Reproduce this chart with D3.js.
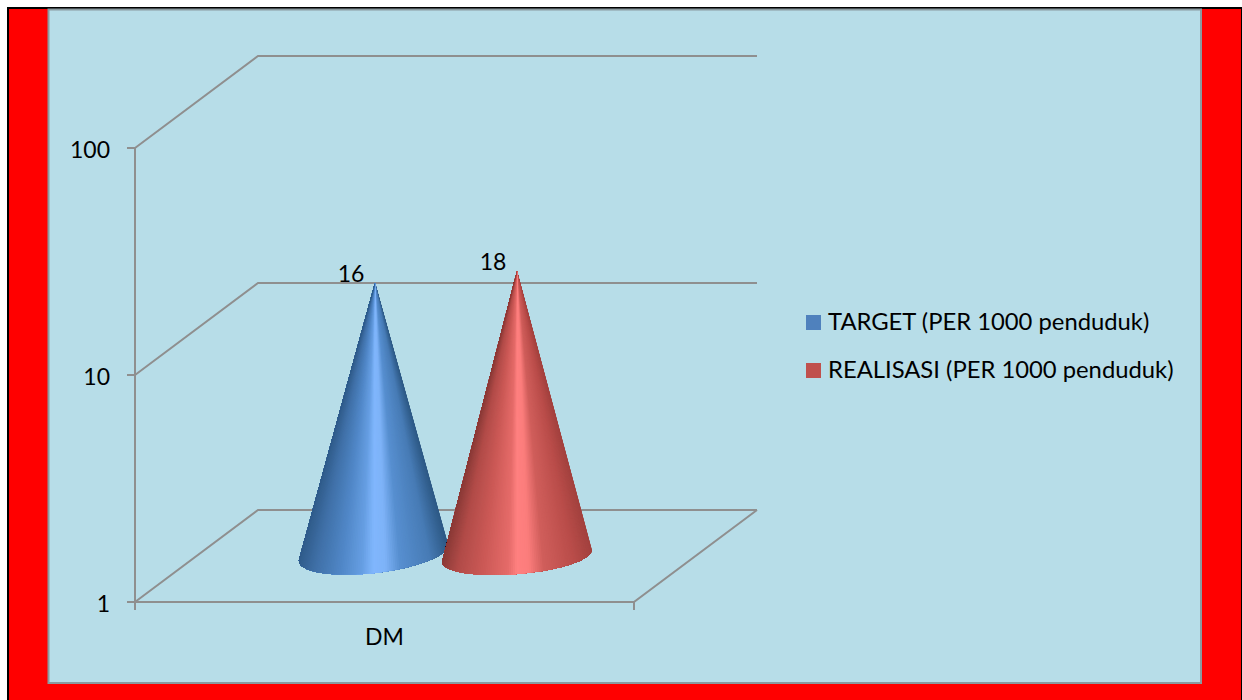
<!DOCTYPE html>
<html>
<head>
<meta charset="utf-8">
<script src="https://cdnjs.cloudflare.com/ajax/libs/d3/7.8.5/d3.min.js"></script>
<style>
html,body{margin:0;padding:0;background:#fff;overflow:hidden}
svg{display:block}
text{font-family:Lato,"Open Sans",sans-serif;fill:#000}
</style>
</head>
<body>
<script>
// Chart values
const categories = ["DM"];
const seriesNames = ["TARGET (PER 1000 penduduk)", "REALISASI (PER 1000 penduduk)"];
const seriesValues = [[16], [18]];
const yTicks = [1, 10, 100];

// Colours: legend swatch plus the shading stops across each cone's visible face
const swatches = ["#4f81bd", "#c0504d"];
const coneStops = [
  [[0,"#315d8c"],[.1,"#3f6fa6"],[.28,"#5087c7"],[.42,"#659ee2"],[.5,"#80b6fd"],[.58,"#7eb3f8"],[.68,"#578fd0"],[.88,"#477bb5"],[1,"#2e5a86"]],
  [[0,"#8c3b38"],[.1,"#b14b48"],[.28,"#cd5a57"],[.44,"#e56b69"],[.5,"#ff8080"],[.58,"#fb7d7c"],[.68,"#d05e5b"],[.88,"#ba4d4a"],[1,"#a3423f"]]
];
// Base ellipse of each cone as the perspective leaves it
const baseTilt = [-6.5, -4.8];
const baseRy = [20, 18];
const baseShift = [[-1.5, -3], [0, 0]];

const W = 1242, H = 700;
const panel = {x: 48.5, y: 9.5, w: 1152.5, h: 673.5};
const plot = {left: 135, right: 634, bottom: 602, top: 148, dx: 123, dy: -92};
const coneDepth = 0.5;   // cones stand half way back on the floor
const rx = 75;
const fontSize = 23;
const legendFontSize = 23.8;

const svg = d3.select("body").append("svg").attr("width", W).attr("height", H);

// Frame
svg.append("rect").attr("width", W).attr("height", H).attr("fill", "#fff");
svg.append("rect").attr("x", 7).attr("y", 7).attr("width", W - 7).attr("height", H - 7).attr("fill", "#000");
svg.append("rect").attr("x", 9).attr("y", 9).attr("width", W - 10).attr("height", H - 9).attr("fill", "#ff0000");
svg.append("rect").attr("x", panel.x).attr("y", panel.y).attr("width", panel.w).attr("height", panel.h)
  .attr("fill", "#b7dde8").attr("stroke", "#8a9a9f").attr("stroke-width", 2);

// Scales
const y = d3.scaleLog().domain([1, 100]).range([plot.bottom, plot.top]);
const x0 = d3.scaleBand().domain(categories).range([plot.left, plot.right]);
const x1 = d3.scaleBand().domain(seriesNames).range([242.5 - plot.left, 526.5 - plot.left]);

// Walls and floor
const axisColor = "#8f8f8f";
const grid = svg.append("g").attr("stroke", axisColor).attr("stroke-width", 2).attr("fill", "none");
const line = d3.line();
yTicks.forEach(v => {
  const yy = y(v);
  grid.append("path").attr("d", line([[plot.left, yy], [plot.left + plot.dx, yy + plot.dy], [plot.right + plot.dx, yy + plot.dy]]));
  grid.append("path").attr("d", line([[plot.left - 8, yy], [plot.left, yy]]));
});
grid.append("path").attr("d", line([[plot.left, y(100)], [plot.left, plot.bottom + 8]]));
grid.append("path").attr("d", line([[plot.left, plot.bottom], [plot.right, plot.bottom]]));
grid.append("path").attr("d", line([[plot.right, plot.bottom + 8], [plot.right, plot.bottom], [plot.right + plot.dx, plot.bottom + plot.dy]]));

// Axis labels
svg.append("g").selectAll("text").data(yTicks).join("text")
  .attr("x", plot.left - 25).attr("y", d => y(d) + 10)
  .attr("text-anchor", "end").attr("font-size", fontSize).text(d => d);
svg.append("g").selectAll("text").data(categories).join("text")
  .attr("x", d => x0(d) + x0.bandwidth() / 2).attr("y", 645)
  .attr("text-anchor", "middle").attr("font-size", fontSize).text(d => d);

// Each cone is a fan of overlapping wedges from the apex to the front arc of its base
function drawCone(name, si, value) {
  const depthX = coneDepth * plot.dx, depthY = coneDepth * plot.dy;
  const apex = [x0(categories[0]) + x1(name) + x1.bandwidth() / 2 + depthX, y(value) + depthY];
  const c = [apex[0] + baseShift[si][0], y(1) + depthY + baseShift[si][1]];
  const tilt = baseTilt[si] * Math.PI / 180, ry = baseRy[si];
  const onBase = t => [
    c[0] + rx * Math.cos(t) * Math.cos(tilt) - ry * Math.sin(t) * Math.sin(tilt),
    c[1] + rx * Math.cos(t) * Math.sin(tilt) + ry * Math.sin(t) * Math.cos(tilt)
  ];

  // Silhouette tangents, worked out in the ellipse's unit-circle frame
  const ax = apex[0] - c[0], ay = apex[1] - c[1];
  const ux = (ax * Math.cos(tilt) + ay * Math.sin(tilt)) / rx;
  const uy = (-ax * Math.sin(tilt) + ay * Math.cos(tilt)) / ry;
  const phi = Math.atan2(uy, ux), spread = Math.acos(1 / Math.hypot(ux, uy));
  let tStart = phi + spread, tEnd = phi - spread;   // right tangent, then left tangent
  while (tStart < -Math.PI * 0.5) tStart += 2 * Math.PI;
  while (tStart > Math.PI * 0.5) tStart -= 2 * Math.PI;
  while (tEnd < tStart) tEnd += 2 * Math.PI;

  const n = 120;
  const pts = d3.range(n + 1).map(i => onBase(tStart + (tEnd - tStart) * i / n));
  const xs = pts.map(p => p[0]);
  const xMin = d3.min(xs), xMax = d3.max(xs);
  const stops = coneStops[si];
  const shade = d3.scaleLinear().domain(stops.map(s => s[0])).range(stops.map(s => s[1])).interpolate(d3.interpolateRgb);

  // Wedges run right to left; each one reaches to the far end of the arc, so no
  // background can show between neighbours and only the leading edge stays visible
  const g = svg.append("g").attr("class", "cone");
  d3.range(n).forEach(i => {
    const mid = (pts[i][0] + pts[i + 1][0]) / 2;
    g.append("path").attr("d", line([apex, ...pts.slice(i)]) + "Z")
      .attr("fill", shade((mid - xMin) / (xMax - xMin)));
  });
  return apex;
}

const apexes = seriesNames.map((name, si) => drawCone(name, si, seriesValues[si][0]));

// Value labels above the cones
svg.append("g").selectAll("text").data(seriesNames).join("text")
  .attr("x", (d, i) => apexes[i][0] - 24)
  .attr("y", (d, i) => apexes[i][1] - 1)
  .attr("text-anchor", "middle").attr("font-size", fontSize)
  .text((d, i) => seriesValues[i][0]);

// Legend
const legend = svg.append("g").selectAll("g").data(seriesNames).join("g")
  .attr("transform", (d, i) => `translate(806,${315 + i * 48})`);
legend.append("rect").attr("width", 15).attr("height", 15).attr("fill", (d, i) => swatches[i]);
legend.append("text").attr("x", 22).attr("y", 15).attr("font-size", legendFontSize).text(d => d);
</script>
</body>
</html>
